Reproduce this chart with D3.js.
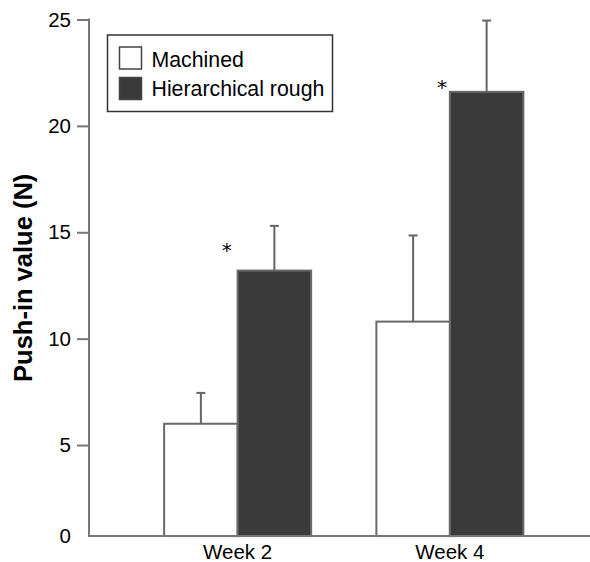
<!DOCTYPE html>
<html>
<head>
<meta charset="utf-8">
<script src="https://cdn.jsdelivr.net/npm/d3@7"></script>
<style>
    body { margin: 0; background: #fff; }
    text { font-family: "Liberation Sans", Arial, sans-serif; fill: #000; }
    .axis--label { font-weight: bold; font-size: 25.5px; }
</style>
</head>
<body>
<div id="chart"></div>
<script>
const weeks = ["Week 2", "Week 4"];
const groups = ["Machined", "Hierarchical rough"];
const machined = [6.0, 10.8];
const machinedErr = [1.45, 4.05];
const rough = [13.2, 21.6];
const roughErr = [2.1, 3.35];
const starLevel = [14.4, 22.05];
const yTicks = [5, 10, 15, 20, 25];

function drawVis() {
    const width = 590;
    const height = 562;
    const margin = {top: 19.5, left: 89, right: 0, bottom: 10.6};
    const yFloor = 0.72; // the axis line sits a little above true zero
    const barWidth = 73.5;

    const svg = d3.select("#chart")
        .append("svg")
        .attr("width", width)
        .attr("height", height);

    const yScale = d3.scaleLinear()
        .domain([0, 25])
        .range([height - margin.bottom, margin.top]);

    const xScale = d3.scaleBand()
        .domain(weeks)
        .range([131.5, 556])
        .padding(0);

    const subScale = d3.scaleBand()
        .domain(groups)
        .range([-barWidth, barWidth]);

    const fillScale = d3.scaleOrdinal()
        .domain(groups)
        .range(["#ffffff", "#3a3a3a"]);

    const data = [];
    weeks.forEach(function(w, i) {
        data.push({week: w, group: groups[0], value: machined[i], err: machinedErr[i]});
        data.push({week: w, group: groups[1], value: rough[i], err: roughErr[i]});
    });

    const barX = d => xScale(d.week) + xScale.bandwidth()/2 + subScale(d.group);

    // bars
    svg.selectAll("rect.bar")
        .data(data)
        .enter()
        .append("rect")
            .attr("class", "bar")
            .attr("x", barX)
            .attr("y", d => yScale(d.value))
            .attr("width", subScale.bandwidth())
            .attr("height", d => yScale(yFloor) - yScale(d.value))
            .attr("fill", d => fillScale(d.group))
            .attr("stroke", "#6a6a6a")
            .attr("stroke-width", 2);

    // error bars
    const err = svg.selectAll("g.err")
        .data(data)
        .enter()
        .append("g")
        .attr("class", "err")
        .attr("stroke", "#666")
        .attr("stroke-width", 2);

    err.append("line")
        .attr("x1", d => barX(d) + subScale.bandwidth()/2)
        .attr("x2", d => barX(d) + subScale.bandwidth()/2)
        .attr("y1", d => yScale(d.value))
        .attr("y2", d => yScale(d.value + d.err));

    err.append("line")
        .attr("x1", d => barX(d) + subScale.bandwidth()/2 - 4.5)
        .attr("x2", d => barX(d) + subScale.bandwidth()/2 + 4.5)
        .attr("y1", d => yScale(d.value + d.err))
        .attr("y2", d => yScale(d.value + d.err));

    // significance stars
    svg.selectAll("text.star")
        .data(weeks)
        .enter()
        .append("text")
        .attr("class", "star")
        .attr("x", (d, i) => xScale(d) + xScale.bandwidth()/2 - (i === 0 ? 11 : 8))
        .attr("y", (d, i) => yScale(starLevel[i]) + 12)
        .attr("text-anchor", "middle")
        .style("font-size", "20px")
        .style("font-family", "DejaVu Sans")
        .text("*");

    // axes
    const yAxis = svg.append("g")
        .attr("class", "axis")
        .attr("transform", `translate(${margin.left},0)`)
        .call(d3.axisLeft(yScale).tickValues(yTicks).tickSize(12).tickPadding(6));
    yAxis.select(".domain").remove();
    yAxis.selectAll("line").attr("stroke", "#777").attr("stroke-width", 2);
    yAxis.selectAll("text").style("font-size", "20.5px").attr("fill", "#000");

    svg.append("line")
        .attr("x1", margin.left).attr("x2", margin.left)
        .attr("y1", yScale(25) - 1).attr("y2", yScale(yFloor))
        .attr("stroke", "#777").attr("stroke-width", 2);

    svg.append("text")
        .attr("x", margin.left - 18)
        .attr("y", yScale(yFloor))
        .attr("dy", "0.32em")
        .attr("text-anchor", "end")
        .style("font-size", "20.5px")
        .text("0");

    svg.append("line")
        .attr("x1", margin.left - 1).attr("x2", width)
        .attr("y1", yScale(yFloor)).attr("y2", yScale(yFloor))
        .attr("stroke", "#777").attr("stroke-width", 2);

    const xAxis = svg.append("g")
        .attr("class", "axis")
        .attr("transform", `translate(0,${yScale(yFloor)})`)
        .call(d3.axisBottom(xScale).tickSize(0).tickPadding(8));
    xAxis.select(".domain").remove();
    xAxis.selectAll("text").style("font-size", "20.5px").attr("fill", "#000");

    svg.append("text")
        .attr("class", "axis--label")
        .attr("transform", "rotate(-90)")
        .attr("x", -(yScale(25) + yScale(yFloor))/2)
        .attr("y", 32)
        .attr("text-anchor", "middle")
        .text("Push-in value (N)");

    legend(svg, fillScale);
}

function legend(svg, fillScale) {
    const box = {x: 107.5, y: 35, w: 225, h: 76.5};
    const spacing = 30.5;

    svg.append("rect")
        .attr("x", box.x).attr("y", box.y)
        .attr("width", box.w).attr("height", box.h)
        .attr("fill", "#fff")
        .attr("stroke", "#333")
        .attr("stroke-width", 1.5);

    groups.forEach(function(d, i) {
        svg.append("rect")
            .attr("x", box.x + 12)
            .attr("y", box.y + 12 + spacing*i)
            .attr("width", 22)
            .attr("height", 22)
            .attr("fill", fillScale(d))
            .attr("stroke", "#444")
            .attr("stroke-width", 1.5);

        svg.append("text")
            .attr("x", box.x + 44)
            .attr("y", box.y + 31.7 + 29.3*i)
            .style("font-size", "21.3px")
            .text(d);
    });
}

drawVis();
</script>
</body>
</html>
